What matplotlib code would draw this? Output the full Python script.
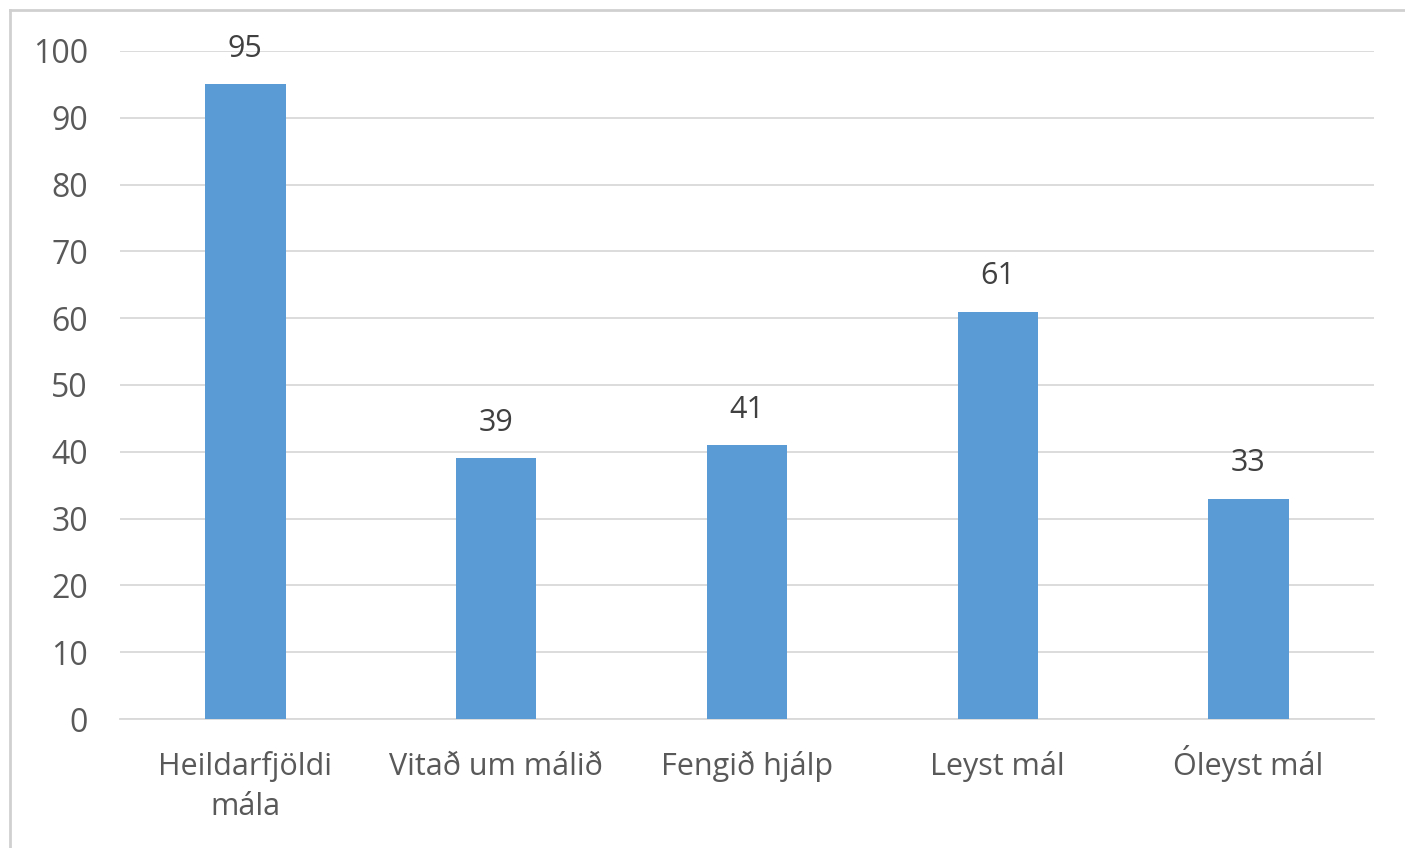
import matplotlib
matplotlib.use("Agg")
import matplotlib.pyplot as plt
from matplotlib.lines import Line2D

# ── Data ──────────────────────────────────────────────────────────────────────
categories = ["Heildarfjöldi\nmála", "Vitað um málið", "Fengið hjálp",
              "Leyst mál", "Óleyst mál"]
values = [95, 39, 41, 61, 33]
yticks = list(range(0, 101, 10))

# ── Style ─────────────────────────────────────────────────────────────────────
BAR = "#5B9BD5"
TXT = "#595959"
GRID = "#D9D9D9"
FS = 22
plt.rcParams["font.family"] = ["Open Sans", "DejaVu Sans"]

fig = plt.figure(figsize=(14.05, 8.48), dpi=100)
ax = fig.add_axes([0.0854, 0.1521, 0.8925, 0.7878])

x = list(range(len(categories)))
bars = ax.bar(x, values, width=0.32, color=BAR, zorder=3)
for b, v in zip(bars, values):
    ax.text(b.get_x() + b.get_width() / 2, v + 5.3, str(v),
            ha="center", va="center", fontsize=FS, color="#404040")

ax.set_ylim(0, 100)
ax.set_xlim(-0.5, len(categories) - 0.5)
ax.set_yticks(yticks)
ax.set_xticks(x)

# first line as tick label (baseline aligned), further lines as plain text
ax.set_xticklabels([c.split("\n")[0] for c in categories], fontsize=FS, color=TXT)
for lbl in ax.get_xticklabels():
    lbl.set_verticalalignment("baseline")
for i, c in enumerate(categories):
    for k, line in enumerate(c.split("\n")[1:], start=1):
        ax.annotate(line, xy=(i, 0), xycoords=("data", "axes fraction"),
                    xytext=(0, -40 - 29 * k), textcoords="offset points",
                    ha="center", va="baseline", fontsize=FS, color=TXT)

ax.tick_params(axis="both", length=0, labelcolor=TXT)
ax.tick_params(axis="y", pad=23, labelsize=23)
ax.tick_params(axis="x", pad=40)
ax.yaxis.grid(True, color=GRID, linewidth=1.3, zorder=0)
for s in ["top", "right", "left"]:
    ax.spines[s].set_visible(False)
ax.spines["bottom"].set_color(GRID)
ax.spines["bottom"].set_linewidth(1.3)

# chart frame (top and left edges visible)
fig.add_artist(Line2D([0.007, 1.0], [0.988, 0.988], color="#D0D0D0",
                      linewidth=2, transform=fig.transFigure))
fig.add_artist(Line2D([0.007, 0.007], [0.0, 0.988], color="#D0D0D0",
                      linewidth=2, transform=fig.transFigure))

fig.savefig("out.png", dpi=100, facecolor="white")
